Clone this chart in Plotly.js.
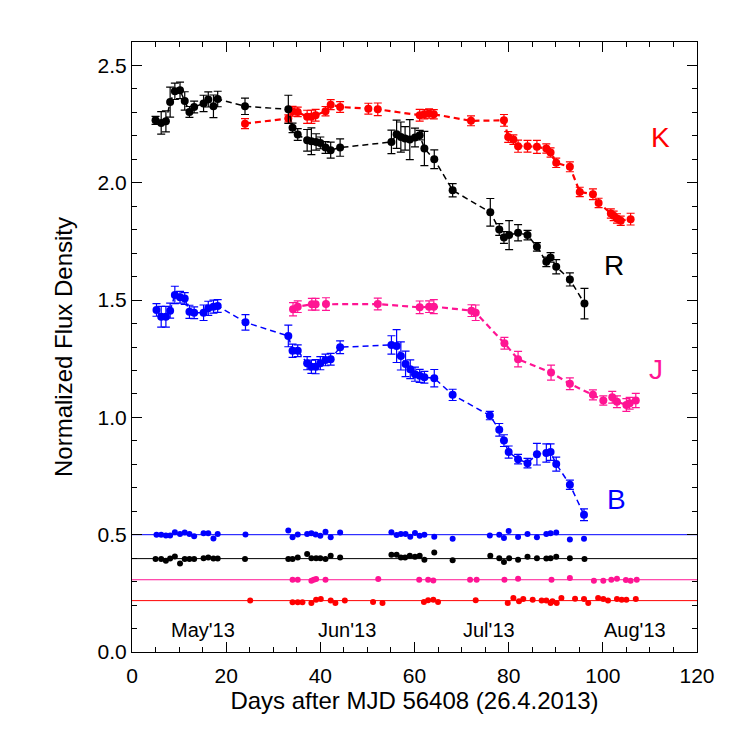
<!DOCTYPE html>
<html>
<head>
<meta charset="utf-8">
<script src="https://cdn.plot.ly/plotly-3.0.1.min.js"></script>
<style>
    body { margin: 0; background: #fff; }
    #plot1 { width: 737px; height: 737px; }
</style>
</head>
<body>
<div id="plot1"></div>
<script>
// R band (black)
const r_days = [5.0, 6.2, 7.2, 8.1, 9.1, 10.2, 11.2, 12.2, 13.2, 15.2, 16.2, 17.3, 18.2, 24.0, 33.2, 34.1, 35.2, 37.2, 38.1, 39.1, 40.0, 41.1, 42.2, 44.2, 55.1, 56.2, 57.1, 58.0, 59.0, 60.1, 61.1, 62.1, 64.2, 68.1, 76.1, 78.0, 79.0, 80.1, 82.0, 84.0, 86.0, 88.0, 88.9, 90.1, 93.0, 96.1];
const r_flux = [2.266, 2.255, 2.262, 2.344, 2.390, 2.394, 2.349, 2.302, 2.323, 2.338, 2.355, 2.326, 2.357, 2.326, 2.313, 2.234, 2.206, 2.181, 2.177, 2.174, 2.170, 2.150, 2.139, 2.150, 2.174, 2.207, 2.195, 2.189, 2.184, 2.193, 2.203, 2.146, 2.100, 1.968, 1.874, 1.801, 1.767, 1.777, 1.787, 1.777, 1.727, 1.663, 1.682, 1.642, 1.588, 1.485];
const r_err = [0.017, 0.048, 0.045, 0.064, 0.035, 0.035, 0.039, 0.023, 0.025, 0.035, 0.032, 0.048, 0.033, 0.035, 0.06, 0.02, 0.025, 0.046, 0.057, 0.035, 0.025, 0.025, 0.034, 0.037, 0.05, 0.06, 0.064, 0.05, 0.085, 0.04, 0.02, 0.073, 0.04, 0.028, 0.059, 0.025, 0.025, 0.062, 0.035, 0.02, 0.018, 0.02, 0.02, 0.03, 0.028, 0.065];

// K band (red)
const k_days = [24.0, 33.2, 34.1, 35.2, 37.2, 38.1, 39.0, 41.1, 42.2, 44.2, 50.2, 52.2, 61.1, 62.1, 63.1, 64.1, 72.0, 79.0, 79.9, 81.0, 82.0, 84.0, 86.0, 88.0, 88.9, 90.1, 93.0, 95.1, 97.9, 99.1, 101.7, 102.3, 103.0, 103.8, 105.9];
const k_flux = [2.252, 2.274, 2.305, 2.302, 2.281, 2.281, 2.288, 2.305, 2.333, 2.323, 2.316, 2.313, 2.288, 2.292, 2.295, 2.292, 2.264, 2.266, 2.195, 2.184, 2.156, 2.156, 2.153, 2.146, 2.129, 2.085, 2.068, 1.961, 1.951, 1.914, 1.869, 1.859, 1.848, 1.838, 1.845];
const k_err = [0.021, 0.015, 0.021, 0.02, 0.028, 0.028, 0.025, 0.02, 0.021, 0.023, 0.023, 0.027, 0.025, 0.02, 0.02, 0.02, 0.021, 0.025, 0.023, 0.02, 0.026, 0.025, 0.028, 0.02, 0.02, 0.02, 0.021, 0.02, 0.023, 0.02, 0.02, 0.02, 0.02, 0.02, 0.025];

// J band (pink)
const j_days = [34.2, 35.2, 38.2, 39.0, 41.2, 52.2, 61.1, 63.1, 64.1, 72.1, 73.0, 79.1, 82.0, 89.0, 93.0, 97.9, 100.1, 102.0, 103.0, 105.0, 105.7, 107.0];
const j_flux = [1.461, 1.472, 1.482, 1.482, 1.483, 1.483, 1.469, 1.472, 1.472, 1.455, 1.446, 1.316, 1.248, 1.191, 1.143, 1.096, 1.072, 1.086, 1.067, 1.053, 1.060, 1.072];
const j_err = [0.028, 0.025, 0.025, 0.025, 0.027, 0.025, 0.027, 0.025, 0.03, 0.025, 0.033, 0.025, 0.033, 0.032, 0.025, 0.021, 0.02, 0.025, 0.025, 0.027, 0.025, 0.03];

// B band (blue)
const b_days = [5.2, 6.2, 7.2, 8.1, 9.1, 10.2, 11.2, 12.2, 13.2, 15.2, 16.2, 17.3, 18.2, 24.1, 33.2, 34.1, 35.2, 37.2, 38.1, 39.0, 40.0, 41.1, 42.2, 44.2, 55.1, 56.2, 57.1, 58.1, 59.1, 60.1, 61.1, 62.1, 64.2, 68.1, 76.0, 78.0, 79.0, 80.0, 82.0, 84.0, 86.0, 88.0, 88.9, 90.1, 93.0, 96.0];
const b_flux = [1.458, 1.429, 1.429, 1.455, 1.522, 1.512, 1.507, 1.450, 1.446, 1.446, 1.465, 1.472, 1.475, 1.405, 1.347, 1.284, 1.284, 1.231, 1.216, 1.216, 1.231, 1.245, 1.248, 1.299, 1.309, 1.304, 1.262, 1.228, 1.205, 1.184, 1.177, 1.171, 1.167, 1.096, 1.008, 0.947, 0.901, 0.852, 0.822, 0.805, 0.843, 0.848, 0.852, 0.801, 0.713, 0.585];
const b_err = [0.027, 0.044, 0.044, 0.032, 0.037, 0.025, 0.025, 0.028, 0.025, 0.033, 0.03, 0.028, 0.027, 0.033, 0.046, 0.028, 0.025, 0.028, 0.028, 0.03, 0.028, 0.025, 0.025, 0.027, 0.039, 0.07, 0.06, 0.054, 0.04, 0.03, 0.028, 0.025, 0.037, 0.024, 0.018, 0.027, 0.025, 0.026, 0.02, 0.02, 0.046, 0.039, 0.035, 0.03, 0.02, 0.025];

// comparison stars (offset levels)
const comp_b = [0.500, 0.500, 0.497, 0.497, 0.510, 0.503, 0.509, 0.503, 0.493, 0.506, 0.506, 0.484, 0.503, 0.501, 0.518, 0.489, 0.501, 0.503, 0.506, 0.501, 0.496, 0.513, 0.489, 0.509, 0.510, 0.499, 0.503, 0.503, 0.491, 0.507, 0.496, 0.500, 0.491, 0.483, 0.497, 0.500, 0.486, 0.516, 0.490, 0.503, 0.489, 0.503, 0.506, 0.509, 0.479, 0.483];
const comp_r = [0.396, 0.396, 0.389, 0.399, 0.407, 0.377, 0.396, 0.396, 0.396, 0.400, 0.403, 0.399, 0.399, 0.396, 0.396, 0.396, 0.403, 0.418, 0.400, 0.400, 0.400, 0.396, 0.410, 0.403, 0.414, 0.414, 0.403, 0.403, 0.410, 0.406, 0.410, 0.393, 0.424, 0.391, 0.410, 0.400, 0.384, 0.400, 0.393, 0.406, 0.400, 0.399, 0.400, 0.406, 0.400, 0.396];
const comp_j_days = [34.1, 35.2, 38.1, 38.6, 39.1, 41.1, 52.3, 61.0, 62.9, 64.0, 71.8, 73.2, 79.1, 82.0, 89.1, 93.0, 98.1, 100.1, 101.8, 103.0, 104.9, 105.9, 107.2];
const comp_j = [0.308, 0.308, 0.304, 0.308, 0.311, 0.308, 0.311, 0.308, 0.308, 0.305, 0.308, 0.308, 0.308, 0.312, 0.308, 0.315, 0.304, 0.304, 0.308, 0.312, 0.307, 0.304, 0.308];
const comp_k_days = [25.1, 34.1, 35.2, 36.2, 38.1, 39.1, 40.1, 42.2, 43.2, 45.2, 51.2, 53.2, 62.0, 62.9, 64.0, 65.0, 73.0, 79.8, 81.0, 82.2, 83.1, 85.1, 87.0, 88.0, 88.9, 89.3, 90.2, 91.2, 94.1, 96.0, 96.9, 99.0, 100.1, 101.1, 103.0, 104.0, 105.0, 107.0];
const comp_k = [0.219, 0.212, 0.212, 0.212, 0.209, 0.223, 0.226, 0.219, 0.209, 0.219, 0.213, 0.209, 0.213, 0.221, 0.223, 0.213, 0.221, 0.209, 0.230, 0.216, 0.226, 0.223, 0.219, 0.219, 0.209, 0.216, 0.209, 0.230, 0.227, 0.226, 0.209, 0.230, 0.226, 0.220, 0.226, 0.223, 0.223, 0.226];
const comp_levels = [0.5, 0.398, 0.308, 0.219];

// band labels and month labels
const band_names = ['K', 'R', 'J', 'B'];
const band_label_x = [112.3, 102.3, 111.3, 103.0];
const band_label_y = [2.194, 1.649, 1.202, 0.650];
const months = ["May'13", "Jun'13", "Jul'13", "Aug'13"];
const month_x = [15, 45.7, 75.8, 106.8];
const month_y = 0.092;

const RED = '#ff0000';
const BLACK = '#000000';
const PINK = '#ff1493';
const BLUE = '#0000ff';
const colors = [RED, BLACK, PINK, BLUE];

function band(x, y, err, color, lw) {
    return {
        x: x,
        y: y,
        type: 'scatter',
        mode: 'lines+markers',
        line: { color: color, width: lw, dash: '6px,4px' },
        marker: { color: color, size: 8 },
        error_y: { type: 'data', array: err, visible: true, color: color, thickness: 1.2, width: 4 },
        showlegend: false,
    };
}

function comp(x, y, color) {
    return {
        x: x,
        y: y,
        type: 'scatter',
        mode: 'markers',
        marker: { color: color, size: 6 },
        showlegend: false,
    };
}

const data = [
    band(k_days, k_flux, k_err, RED, 2.2),
    band(r_days, r_flux, r_err, BLACK, 1.5),
    band(j_days, j_flux, j_err, PINK, 2.2),
    band(b_days, b_flux, b_err, BLUE, 1.5),
    comp(b_days, comp_b, BLUE),
    comp(r_days, comp_r, BLACK),
    comp(comp_j_days, comp_j, PINK),
    comp(comp_k_days, comp_k, RED),
];

const shapeColors = [BLUE, BLACK, PINK, RED];
const shapes = comp_levels.map((lv, i) => ({
    type: 'line', xref: 'x', yref: 'y',
    x0: 0, x1: 120, y0: lv, y1: lv,
    line: { color: shapeColors[i], width: 1 },
    layer: 'below',
}));

const annotations = [];
band_names.forEach((name, i) => {
    annotations.push({
        x: band_label_x[i], y: band_label_y[i], text: name,
        showarrow: false, font: { size: 28, color: colors[i] },
    });
});
months.forEach((m, i) => {
    annotations.push({
        x: month_x[i], y: month_y, text: m,
        showarrow: false, font: { size: 20, color: '#000' },
    });
});

const axisCommon = {
    showline: true,
    linecolor: '#000',
    linewidth: 1.2,
    mirror: 'allticks',
    ticks: 'inside',
    ticklen: 10,
    tickwidth: 1.2,
    tickcolor: '#000',
    showgrid: false,
    zeroline: false,
    tickfont: { size: 21, color: '#000' },
};

const layout = {
    width: 737,
    height: 737,
    margin: { l: 132, r: 40, t: 42, b: 85 },
    paper_bgcolor: '#fff',
    plot_bgcolor: '#fff',
    font: { family: 'Liberation Sans, Arial, sans-serif', color: '#000' },
    xaxis: Object.assign({}, axisCommon, {
        range: [0, 120],
        dtick: 20,
        ticklabelstandoff: 5,
        minor: { ticks: 'inside', ticklen: 5, dtick: 5, tickcolor: '#000', showgrid: false },
        title: { text: 'Days after MJD 56408 (26.4.2013)', font: { size: 24 }, standoff: 4 },
    }),
    yaxis: Object.assign({}, axisCommon, {
        range: [0, 2.6],
        dtick: 0.5,
        tickformat: '.1f',
        minor: { ticks: 'inside', ticklen: 5, dtick: 0.1, tickcolor: '#000', showgrid: false },
        title: { text: 'Normalized Flux Density', font: { size: 24 }, standoff: 18 },
    }),
    shapes: shapes,
    annotations: annotations,
};

Plotly.newPlot('plot1', data, layout, { displayModeBar: false });
</script>
</body>
</html>
